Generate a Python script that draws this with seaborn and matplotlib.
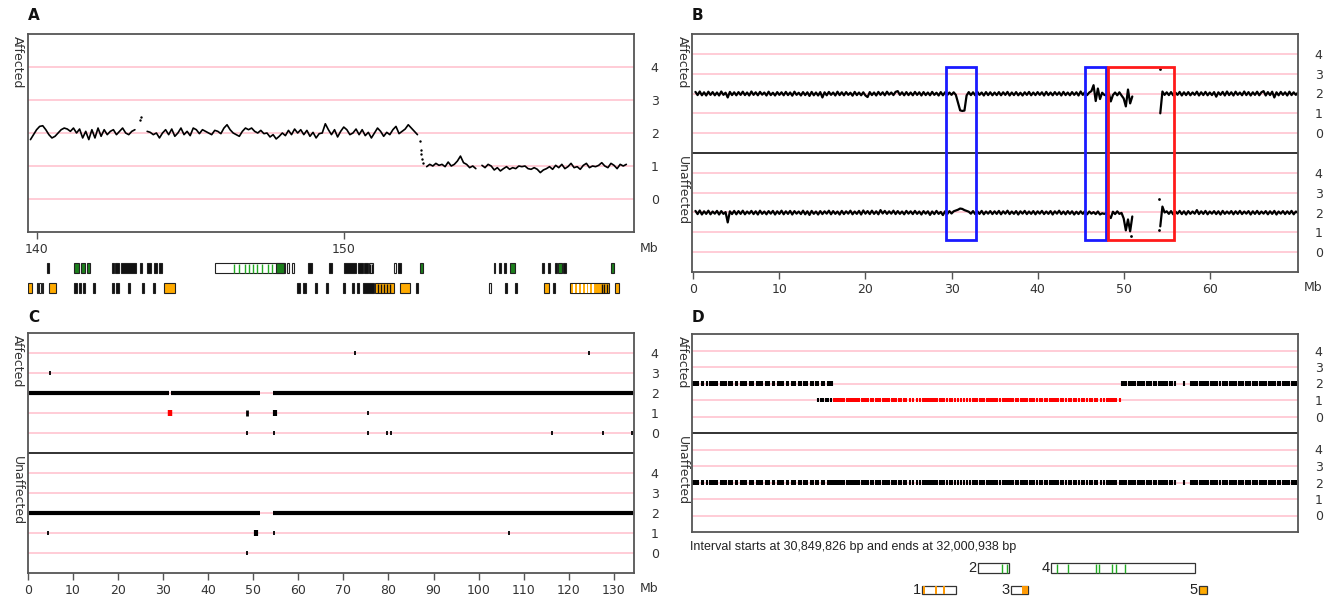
import numpy as np
import pandas as pd
import matplotlib
matplotlib.use('Agg')
import matplotlib.pyplot as plt
from matplotlib.patches import Rectangle
import seaborn as sns

nan = np.nan

# ---------------- Panel A: smoothed copy number (affected), 139.7-159.4 Mb
a_high_start = 139.8          # Mb, 0.1 Mb steps
a_high_cn = [1.8, 1.95, 2.1, 2.2, 2.22, 2.1, 1.95, 1.85, 1.9, 2.0,
             2.1, 2.15, 2.12, 2.05, 2.15, 2.0, 2.12, 1.85, 2.05, 1.8,
             2.1, 1.85, 2.15, 1.9, 2.1, 1.95, 2.05, 2.1, 1.95, 2.05,
             2.15, 2.0, 1.95, 2.05, 2.1, nan, nan, nan, 2.05, 2.02,
             1.95, 2.0, 1.85, 2.0, 2.1, 1.95, 2.12, 1.9, 2.0, 2.15,
             1.95, 2.05, 1.92, 2.15, 2.1, 1.98, 2.1, 2.05, 2.0, 1.95,
             2.08, 2.05, 1.98, 2.15, 2.25, 2.1, 2.0, 1.95, 1.9, 2.05,
             2.15, 2.1, 2.15, 2.05, 2.0, 2.08, 1.98, 2.0, 1.88, 1.95,
             1.82, 1.9, 2.0, 1.92, 2.08, 1.95, 2.12, 2.0, 2.1, 1.95,
             2.08, 1.9, 2.02, 1.85, 1.98, 2.0, 2.28, 2.1, 1.95, 2.1,
             1.88, 2.05, 2.18, 2.1, 1.95, 2.0, 2.12, 1.95, 2.1, 1.92,
             2.02, 1.85, 2.0, 2.15, 2.05, 1.9, 2.02, 1.95, 2.1, 2.2,
             1.98, 2.05, 2.12, 2.25, 2.15, 2.05, 1.95]
a_low_start = 152.7
a_low_cn = [0.98, 1.05, 1.0, 1.08, 1.02, 1.05, 0.98, 1.12, 1.0, 1.05,
            1.15, 1.3, 1.1, 1.05, 0.95, 1.0, 0.92, nan, 1.02, 0.95,
            1.05, 1.0, 0.88, 0.95, 0.85, 0.92, 0.98, 0.9, 0.95, 0.92,
            1.0, 0.98, 1.0, 0.92, 0.9, 0.95, 0.9, 0.8, 0.88, 0.92,
            0.98, 0.9, 1.02, 0.95, 1.05, 0.92, 0.98, 1.08, 0.95, 0.98,
            0.9, 1.02, 1.08, 0.95, 1.0, 0.98, 1.02, 1.1, 1.0, 0.95,
            1.08, 1.02, 0.92, 1.05, 1.0, 1.05]
a_dot_x = [143.38, 143.41, 152.48, 152.5, 152.52, 152.55, 152.58]
a_dot_cn = [2.4, 2.48, 1.75, 1.5, 1.35, 1.2, 1.08]

# gene track under A (row 1 top, row 2 bottom); fill: k black, g green, w white, o orange
g1_start = [140.33, 141.23, 141.44, 141.64, 142.44, 142.56, 142.74, 143.36, 143.59, 143.81, 143.99,
            145.82, 148.15, 148.31, 148.82, 149.53, 150.0, 150.45, 150.66, 150.83, 151.64, 151.78,
            152.47, 154.89, 155.06, 155.23, 155.42, 156.47, 156.64, 156.89, 156.99, 157.15, 158.7, 147.78]
g1_end = [140.4, 141.37, 141.58, 141.75, 142.51, 142.67, 143.25, 143.42, 143.71, 143.93, 144.08,
          148.08, 148.22, 148.37, 148.96, 149.62, 150.41, 150.62, 150.79, 150.95, 151.71, 151.85,
          152.58, 154.94, 155.12, 155.29, 155.58, 156.51, 156.71, 156.95, 157.12, 157.22, 158.79, 148.04]
g1_fill = ['k', 'g', 'g', 'g', 'k', 'k', 'k', 'k', 'k', 'k', 'k',
           'w', 'w', 'w', 'k', 'k', 'k', 'k', 'k', 'w', 'w', 'k',
           'g', 'k', 'k', 'k', 'g', 'k', 'k', 'k', 'g', 'k', 'g', 'g']
g1_green_lines = [146.44, 146.58, 146.78, 146.92, 147.05, 147.19, 147.33, 147.53, 147.67]
g1_black_lines = [150.87, 150.91]

g2_start = [139.73, 140.0, 140.09, 140.16, 140.41, 141.23, 141.37, 141.51, 141.84, 142.44, 142.58,
            142.96, 143.44, 143.78, 144.15, 148.49, 148.67, 149.08, 149.41, 149.96, 150.27, 150.44,
            150.62, 151.03, 151.82, 152.36, 154.73, 155.24, 155.57, 156.51, 156.82, 157.36, 158.84]
g2_end = [139.86, 140.06, 140.14, 140.21, 140.62, 141.3, 141.44, 141.58, 141.9, 142.51, 142.68,
          143.03, 143.51, 143.85, 144.52, 148.59, 148.77, 149.14, 149.49, 150.04, 150.34, 150.51,
          151.0, 151.64, 152.15, 152.42, 154.8, 155.3, 155.63, 156.69, 156.89, 158.63, 158.95]
g2_fill = ['o', 'k', 'w', 'k', 'o', 'k', 'k', 'k', 'k', 'k', 'k',
           'k', 'k', 'k', 'o', 'k', 'k', 'k', 'k', 'k', 'k', 'k',
           'k', 'o', 'o', 'k', 'w', 'k', 'k', 'o', 'k', 'o', 'o']
g2_black_lines = [151.1, 151.2, 151.3, 151.4, 151.5, 158.4, 158.48, 158.56]
g2_white_lines = [157.5, 157.62, 157.75, 157.88, 158.0, 158.12]

# ---------------- Panel B: smoothed copy number along the chromosome, 0.25 Mb steps
b_aff_cn = [2.08, 1.92, 2.1, 1.91, 2.06, 1.9, 2.09, 1.93, 2.07, 1.91, 2.05, 1.9, 2.1, 1.93, 2.04, 1.8, 2.08, 1.92, 2.06, 1.91,
            2.07, 1.93, 2.09, 1.92, 2.05, 1.9, 2.1, 1.93, 2.06, 1.91, 2.08, 1.94, 2.05, 1.9, 2.09, 1.92, 2.04, 1.9, 2.07, 1.93,
            2.06, 1.91, 2.08, 1.92, 2.05, 1.89, 2.09, 1.93, 2.04, 1.9, 2.07, 1.92, 2.06, 1.88, 2.08, 1.91, 2.05, 1.9, 2.07, 1.8,
            2.06, 1.91, 2.08, 1.93, 2.05, 1.9, 2.09, 1.92, 2.06, 1.91, 2.07, 1.93, 2.04, 1.89, 2.08, 1.92, 2.05, 1.91, 2.06, 1.9,
            1.82, 2.07, 1.92, 2.05, 1.9, 2.08, 1.93, 2.06, 1.91, 2.09, 1.94, 2.05, 1.92, 2.08, 2.12, 1.93, 2.06, 1.91, 2.07, 1.92,
            2.05, 1.91, 2.08, 1.93, 2.06, 1.9, 2.07, 1.92, 2.05, 1.91, 2.08, 1.93, 2.04, 1.9, 2.07, 1.91, 2.06, 1.92, 2.05, 1.93,
            2.06, 1.93, 1.55, 1.15, 1.12, 1.14, 1.9, 2.07, 1.92, 2.06, 1.91, 2.08, 1.93, 2.05, 1.9, 2.07, 1.92, 2.06, 1.91, 2.05,
            1.92, 2.07, 1.91, 2.06, 1.93, 2.08, 1.9, 2.05, 1.92, 2.07, 1.91, 2.04, 1.9, 2.06, 1.93, 2.08, 1.91, 2.05, 1.92, 2.07,
            1.93, 2.06, 1.9, 2.08, 1.92, 2.05, 1.91, 2.07, 1.93, 2.06, 1.9, 2.08, 1.92, 2.05, 1.91, 2.07, 1.93, 2.06, 1.9, 2.1,
            1.93, 2.07, 1.92, 2.05, 2.12, 2.42, 1.62, 2.25, 1.72, 2.04, 1.93, 1.9, 2.06, 1.6, 1.92, 2.05, 1.91, 2.06, 1.9, 1.75,
            1.35, 2.2, 1.5, 1.85] + [nan] * 12 + [1.0, 2.1, 1.93, 2.06,
            1.92, 2.07, 1.91, 2.05, 1.93, 2.08, 1.9, 2.06, 1.92, 2.07, 1.91, 2.05, 1.93, 2.09, 1.9, 2.06, 1.92, 2.08, 1.91, 2.05,
            1.92, 2.07, 1.84, 2.06, 1.93, 2.08, 1.9, 2.1, 1.92, 2.06, 1.9, 2.09, 1.93, 2.05, 1.91, 2.1, 1.92, 2.07, 1.9, 2.06,
            1.93, 2.09, 1.91, 2.06, 2.12, 1.9, 2.07, 1.92, 2.09, 1.8, 2.06, 1.91, 2.08, 1.93, 2.06, 1.9, 2.09, 1.92, 2.06, 1.93,
            2.05]
b_unaff_cn = [2.08, 1.92, 2.1, 1.9, 2.06, 1.93, 2.09, 1.91, 2.05, 1.94, 2.08, 1.9, 2.07, 1.93, 2.02, 1.5, 2.06, 1.92, 2.08, 1.91,
              2.07, 1.93, 2.09, 1.91, 2.05, 1.94, 2.08, 1.92, 2.06, 1.9, 2.09, 1.93, 2.05, 1.91, 2.07, 1.94, 2.08, 1.9, 2.06, 1.93,
              2.09, 1.91, 2.06, 1.93, 2.08, 1.9, 2.07, 1.94, 2.05, 1.92, 2.09, 1.91, 2.06, 1.88, 2.08, 1.93, 2.05, 1.9, 2.07, 1.92,
              2.06, 1.94, 2.09, 1.91, 2.07, 1.93, 2.05, 1.9, 2.08, 1.92, 2.06, 1.94, 2.09, 1.91, 2.05, 1.93, 2.08, 1.9, 2.1, 1.94,
              2.07, 1.92, 2.09, 1.93, 2.06, 1.91, 2.12, 1.95, 2.08, 1.93, 2.06, 1.94, 2.09, 1.92, 2.07, 1.93, 2.05, 1.91, 2.08, 1.94,
              2.06, 1.92, 2.08, 1.93, 2.05, 1.9, 2.07, 1.94, 2.06, 1.88, 2.05, 1.92, 2.08, 1.93, 2.03, 1.87, 2.06, 1.92, 2.07, 1.95,
              2.06, 2.1, 2.14, 2.2, 2.18, 2.12, 2.08, 2.04, 1.94, 2.07, 1.92, 2.06, 1.93, 2.08, 1.91, 2.05, 1.94, 2.07, 1.92, 2.06,
              1.93, 2.08, 1.91, 2.06, 1.94, 2.09, 1.92, 2.05, 1.93, 2.07, 1.9, 2.06, 1.94, 2.08, 1.92, 2.05, 1.93, 2.07, 1.91, 2.06,
              1.94, 2.08, 1.92, 2.05, 1.93, 2.07, 1.9, 2.06, 1.94, 2.09, 1.92, 2.05, 1.91, 2.07, 1.93, 2.06, 1.9, 2.04, 1.92, 2.06,
              1.93, 2.07, 1.91, 2.05, 1.94, 2.02, 1.92, 2.05, 1.9, 1.96, 1.93, 1.98, 1.85, 1.72, 2.04, 1.92, 2.06, 1.93, 1.98, 1.7,
              1.1, 1.65, 1.05, 1.8] + [nan] * 12 + [1.3, 2.3, 2.0, 2.06,
              1.93, 2.07, 1.91, 2.05, 1.94, 2.08, 1.92, 2.06, 1.9, 2.07, 1.93, 2.05, 1.94, 2.12, 1.92, 2.06, 1.93, 2.08, 1.91, 2.05,
              1.94, 2.07, 1.92, 2.06, 1.9, 2.08, 1.93, 2.05, 1.94, 2.07, 1.91, 2.06, 1.93, 2.08, 1.92, 2.05, 1.94, 2.07, 1.9, 2.06,
              1.93, 2.08, 1.92, 2.05, 1.94, 2.07, 1.91, 2.06, 1.93, 2.08, 1.9, 2.05, 1.94, 2.07, 1.92, 2.06, 1.93, 2.08, 1.91, 2.05,
              1.98]
b_aff_dot_x, b_aff_dot_cn = [54.2], [3.25]
b_unaff_dot_x, b_unaff_dot_cn = [50.8, 54.15, 54.15], [0.82, 2.7, 1.1]
# highlighted intervals (Mb) and their copy-number span (lower 0.63 .. upper 3.35)
box_start = [29.4, 45.5, 48.2]
box_end = [32.9, 47.9, 55.8]
box_color = ['#1a1aff', '#1a1aff', '#ff1a1a']

# ---------------- Panel C: per-chromosome calls
c_aff_runs = [(0.3, 31.3), (31.7, 51.5), (54.4, 134.3)]
c_unaff_runs = [(0.3, 51.5), (54.4, 134.3)]
c_aff_x = [72.5, 124.5, 4.95, 75.4, 48.6, 54.6, 75.4, 79.6, 80.6, 116.2, 127.6, 134.0]
c_aff_cn = [4, 4, 3, 1, 0, 0, 0, 0, 0, 0, 0, 0]
c_aff_big_x, c_aff_big_cn, c_aff_big_col = [48.7, 54.9, 31.5], [1, 1, 1], ['k', 'k', 'r']
c_unaff_x = [4.4, 54.6, 106.7, 48.6]
c_unaff_cn = [1, 1, 1, 0]
c_unaff_big_x, c_unaff_big_cn = [50.7], [1]

# ---------------- Panel D: SNP calls in 30,849,826 - 32,000,938 bp
d_aff_cn2_left = [30.852, 30.855, 30.858, 30.861, 30.868, 30.871, 30.879, 30.884, 30.887, 30.892, 30.895, 30.898,
                  30.905, 30.908, 30.911, 30.914, 30.92, 30.923, 30.926, 30.933, 30.936, 30.943, 30.946, 30.949,
                  30.952, 30.96, 30.963, 30.966, 30.973, 30.976, 30.979, 30.982, 30.99, 30.993, 30.996, 31.003,
                  31.006, 31.013, 31.016, 31.019, 31.022, 31.03, 31.033, 31.04, 31.043, 31.046, 31.053, 31.056,
                  31.063, 31.066, 31.069, 31.076, 31.079, 31.086, 31.09, 31.097, 31.101, 31.108, 31.112, 31.116]
d_aff_cn1_black = [31.090, 31.094, 31.098, 31.104, 31.108, 31.113]
d_aff_cn1_red = [31.119, 31.123, 31.127, 31.131, 31.135, 31.139, 31.144, 31.149, 31.152, 31.155, 31.158, 31.161,
                 31.164, 31.167, 31.172, 31.176, 31.181, 31.185, 31.19, 31.194, 31.199, 31.203, 31.207, 31.212,
                 31.216, 31.22, 31.224, 31.229, 31.233, 31.238, 31.243, 31.247, 31.252, 31.257, 31.263, 31.27,
                 31.277, 31.283, 31.288, 31.292, 31.296, 31.3, 31.303, 31.306, 31.309, 31.312, 31.316, 31.321,
                 31.325, 31.329, 31.334, 31.339, 31.344, 31.349, 31.356, 31.36, 31.366, 31.372, 31.378, 31.383,
                 31.388, 31.392, 31.396, 31.4, 31.405, 31.41, 31.414, 31.418, 31.422, 31.426, 31.43, 31.435,
                 31.44, 31.444, 31.448, 31.452, 31.456, 31.46, 31.465, 31.47, 31.474, 31.478, 31.482, 31.487,
                 31.492, 31.496, 31.5, 31.505, 31.51, 31.515, 31.52, 31.525, 31.529, 31.533, 31.537, 31.541,
                 31.545, 31.55, 31.555, 31.56, 31.565, 31.57, 31.575, 31.58, 31.585, 31.59, 31.595, 31.6,
                 31.605, 31.61, 31.615, 31.62, 31.626, 31.632, 31.638, 31.642, 31.645, 31.648, 31.651, 31.655, 31.662]
d_aff_cn2_right = [31.666, 31.67, 31.674, 31.679, 31.683, 31.688, 31.692, 31.697, 31.701, 31.705, 31.709, 31.714,
                   31.718, 31.722, 31.727, 31.731, 31.736, 31.74, 31.745, 31.749, 31.753, 31.758, 31.762, 31.767,
                   31.784, 31.797, 31.801, 31.805, 31.81, 31.814, 31.818, 31.822, 31.826, 31.83, 31.835, 31.84,
                   31.844, 31.848, 31.853, 31.858, 31.862, 31.866, 31.871, 31.875, 31.88, 31.884, 31.889, 31.893,
                   31.897, 31.902, 31.906, 31.91, 31.915, 31.92, 31.924, 31.928, 31.933, 31.937, 31.941, 31.946,
                   31.95, 31.954, 31.958, 31.963, 31.967, 31.972, 31.976, 31.98, 31.984, 31.989, 31.993, 31.998]
d_unaff_cn2 = d_aff_cn2_left + d_aff_cn1_red + d_aff_cn2_right
d_start, d_end = 30.849826, 32.000938

# genes in the interval
d_gene_label = ['2', '4', '1', '3', '5']
d_gene_start = [31.393, 31.532, 31.287, 31.456, 31.813]
d_gene_end = [31.452, 31.806, 31.351, 31.488, 31.828]
d_gene_row = ['top', 'top', 'bottom', 'bottom', 'bottom']
d_gene_fill = ['w', 'w', 'w', 'w', 'o']
d_green_lines = [31.439, 31.448, 31.543, 31.564, 31.617, 31.623, 31.648, 31.655, 31.673]
d_orange_lines = [31.290, 31.313, 31.329, 31.479, 31.483, 31.486]

# ---------------------------------------------------------------- drawing
W, H = 1329, 598
PINK = '#ffc4cf'
EDGE = '#555555'
TXT = '#333333'
FILL = {'k': '#111111', 'g': '#1c7f1c', 'w': 'white', 'o': '#ffaa00'}

sns.set_theme(style='white')
plt.rcParams['font.family'] = ['DejaVu Sans']

fig = plt.figure(figsize=(W / 100, H / 100), dpi=100)


def rect(l, t, r, b):
    return [l / W, 1 - b / H, (r - l) / W, (b - t) / H]


def trace(ax, x, y, color='black', lw=1.0):
    df = pd.DataFrame({'x': x, 'y': y})
    df['seg'] = df['y'].isna().cumsum()
    df = df.dropna()
    sns.lineplot(data=df, x='x', y='y', units='seg', estimator=None, sort=False,
                 color=color, linewidth=lw, ax=ax)


def style(ax, levels, labels, xticks=None, mb=True):
    for y in levels:
        ax.axhline(y, color=PINK, lw=1.2, zorder=0)
    for s in ax.spines.values():
        s.set_color(EDGE)
        s.set_linewidth(1.3)
    ax.set_yticks(levels)
    ax.set_yticklabels(labels)
    ax.yaxis.tick_right()
    ax.tick_params(axis='y', length=0, pad=12, labelsize=9, labelcolor=TXT)
    if xticks is None:
        ax.set_xticks([])
    else:
        ax.set_xticks(xticks)
        ax.tick_params(axis='x', bottom=True, direction='out', length=5, width=1,
                       color=EDGE, labelsize=9, labelcolor=TXT, pad=3)
    if mb:
        ax.annotate('Mb', xy=(1, 0), xycoords='axes fraction', xytext=(15, -16),
                    textcoords='offset pixels', ha='center', va='center', fontsize=9, color=TXT)
    ax.set_xlabel('')
    ax.set_ylabel('')
    ax.grid(False)


def draw_genes(ax, starts, ends, fills, y0, h):
    for s, e, f in zip(starts, ends, fills):
        ax.add_patch(Rectangle((s, y0), e - s, h, facecolor=FILL[f], edgecolor='#222222', lw=0.8))


def side_label(x, y, text):
    fig.text(x / W, 1 - y / H, text, rotation=270, ha='center', va='top', fontsize=9, color=TXT)


# ---- A
axA = fig.add_axes(rect(28, 34, 634, 232))
trace(axA, a_high_start + 0.1 * np.arange(len(a_high_cn)), a_high_cn, lw=1.2)
trace(axA, a_low_start + 0.1 * np.arange(len(a_low_cn)), a_low_cn, lw=1.2)
sns.scatterplot(x=a_dot_x, y=a_dot_cn, color='black', s=3, linewidth=0, ax=axA)
axA.set_xlim(139.72, 159.45)
axA.set_ylim(-1, 5)
style(axA, [0, 1, 2, 3, 4], ['0', '1', '2', '3', '4'], xticks=[140, 150])
side_label(17, 36, 'Affected')

axG = fig.add_axes(rect(28, 257, 634, 297))
axG.set_xlim(139.72, 159.45)
axG.set_ylim(0, 4)
axG.axis('off')
draw_genes(axG, g1_start, g1_end, g1_fill, 2.4, 1.0)
axG.vlines(g1_green_lines, 2.45, 3.35, colors='#22aa22', lw=1)
axG.vlines(g1_black_lines, 2.45, 3.35, colors='#111111', lw=1)
draw_genes(axG, g2_start, g2_end, g2_fill, 0.4, 1.0)
axG.vlines(g2_black_lines, 0.45, 1.35, colors='#111111', lw=1)
axG.vlines(g2_white_lines, 0.45, 1.35, colors='white', lw=1.5)

# ---- B
axB = fig.add_axes(rect(692, 34, 1298, 272))
b_x = 0.25 * (np.arange(len(b_aff_cn)) + 1)
trace(axB, b_x, np.array(b_aff_cn) + 6, lw=1.6)
trace(axB, b_x, b_unaff_cn, lw=1.6)
sns.scatterplot(x=b_aff_dot_x, y=np.array(b_aff_dot_cn) + 6, color='black', s=4, linewidth=0, ax=axB)
sns.scatterplot(x=b_unaff_dot_x, y=b_unaff_dot_cn, color='black', s=4, linewidth=0, ax=axB)
for s, e, c in zip(box_start, box_end, box_color):
    axB.add_patch(Rectangle((s, 0.63), e - s, 9.35 - 0.63, fill=False, edgecolor=c, lw=2, zorder=5))
axB.axhline(5, color='#222222', lw=1.3)
axB.set_xlim(-0.15, 70.25)
axB.set_ylim(-1, 11)
style(axB, [0, 1, 2, 3, 4, 6, 7, 8, 9, 10], list('0123401234'), xticks=list(range(0, 70, 10)))
side_label(682, 36, 'Affected')
side_label(682, 156, 'Unaffected')

# ---- C
axC = fig.add_axes(rect(28, 333, 634, 573))
for s, e in c_aff_runs:
    axC.hlines(8, s, e, colors='black', lw=3)
for s, e in c_unaff_runs:
    axC.hlines(2, s, e, colors='black', lw=3)
axC.vlines(c_aff_x, np.array(c_aff_cn) + 6 - 0.1, np.array(c_aff_cn) + 6 + 0.1, colors='black', lw=1.3)
axC.vlines(c_aff_big_x, np.array(c_aff_big_cn) + 6 - 0.14, np.array(c_aff_big_cn) + 6 + 0.14,
           colors=['#ff0000' if c == 'r' else 'black' for c in c_aff_big_col], lw=[2.0, 3.0, 3.2])
axC.vlines(c_unaff_x, np.array(c_unaff_cn) - 0.1, np.array(c_unaff_cn) + 0.1, colors='black', lw=1.3)
axC.vlines(c_unaff_big_x, np.array(c_unaff_big_cn) - 0.14, np.array(c_unaff_big_cn) + 0.14, colors='black', lw=3.0)
axC.axhline(5, color='#222222', lw=1.3)
axC.set_xlim(0, 134.5)
axC.set_ylim(-1, 11)
style(axC, [0, 1, 2, 3, 4, 6, 7, 8, 9, 10], list('0123401234'), xticks=list(range(0, 131, 10)))
side_label(17, 335, 'Affected')
side_label(17, 456, 'Unaffected')

# ---- D
axD = fig.add_axes(rect(692, 334, 1298, 532))
h = 0.14
axD.vlines(d_aff_cn2_left + d_aff_cn2_right, 8 - h, 8 + h, colors='black', lw=1.5)
axD.vlines(d_aff_cn1_black, 7 - h, 7 + h, colors='black', lw=1.5)
axD.vlines(d_aff_cn1_red, 7 - h, 7 + h, colors='#ff0000', lw=1.5)
axD.vlines(d_unaff_cn2, 2 - h, 2 + h, colors='black', lw=1.5)
axD.axhline(5, color='#222222', lw=1.3)
axD.set_xlim(d_start, d_end)
axD.set_ylim(-1, 11)
style(axD, [0, 1, 2, 3, 4, 6, 7, 8, 9, 10], list('0123401234'), xticks=None, mb=False)
side_label(682, 336, 'Affected')
side_label(682, 436, 'Unaffected')

fig.text(690 / W, 1 - 547 / H, 'Interval starts at 30,849,826 bp and ends at 32,000,938 bp',
         ha='left', va='center', fontsize=9, color='#222222', family=['Liberation Sans', 'DejaVu Sans'])

axDG = fig.add_axes(rect(692, 558, 1298, 598))
axDG.set_xlim(d_start, d_end)
axDG.set_ylim(0, 4)
axDG.axis('off')
for lab, s, e, r, f in zip(d_gene_label, d_gene_start, d_gene_end, d_gene_row, d_gene_fill):
    y0, hh = (2.5, 1.0) if r == 'top' else (0.4, 0.85)
    axDG.add_patch(Rectangle((s, y0), e - s, hh, facecolor=FILL[f], edgecolor='#333333', lw=0.9))
    axDG.text(s - 0.003, y0 + hh / 2, lab, ha='right', va='center', fontsize=10.5, color='#222222',
              family=['Liberation Sans', 'DejaVu Sans'])
axDG.vlines(d_green_lines, 2.55, 3.45, colors='#22aa22', lw=1)
axDG.vlines(d_orange_lines, 0.45, 1.2, colors='#ff9900', lw=1.4)

# panel letters
for x, y, t in [(28, 15, 'A'), (692, 15, 'B'), (28, 317, 'C'), (692, 317, 'D')]:
    fig.text(x / W, 1 - y / H, t, ha='left', va='center', fontsize=11, fontweight='bold', color='#111111')

fig.savefig('out.png', dpi=100)
